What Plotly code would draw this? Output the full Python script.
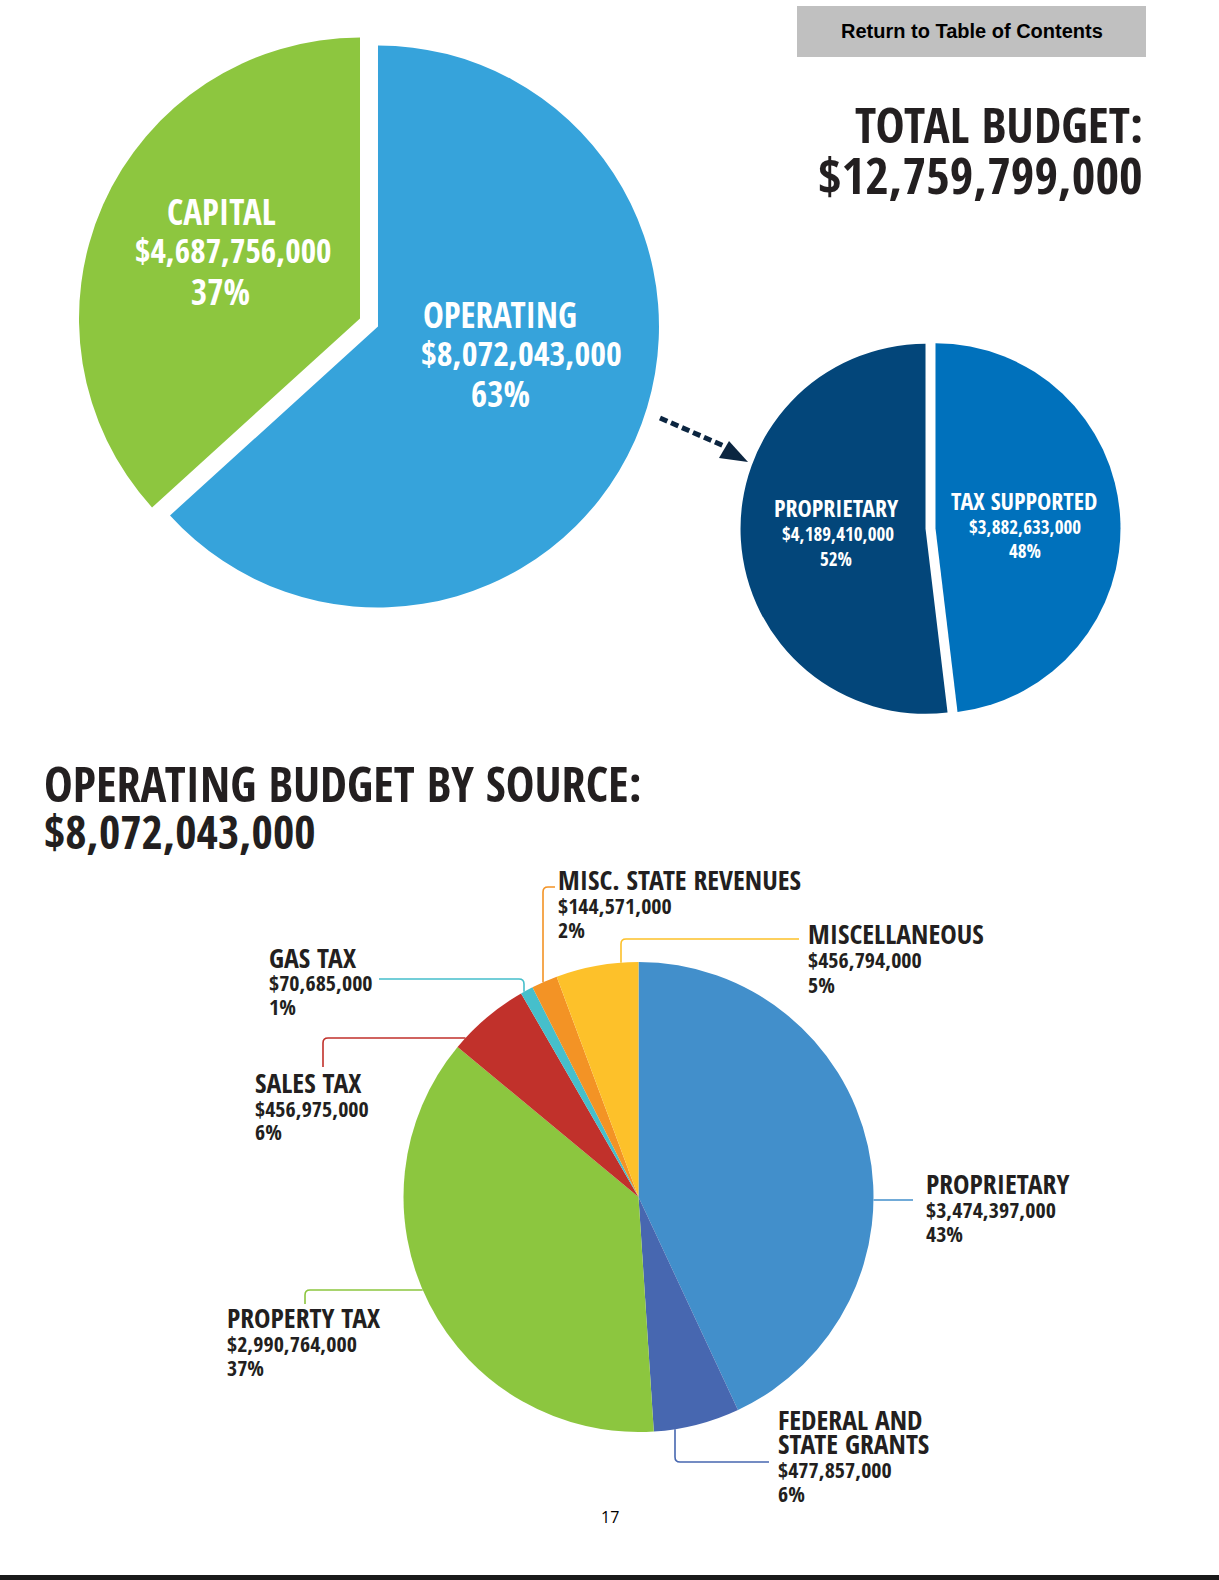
import plotly.graph_objects as go

W, H = 1219, 1580

# ---------------- data ----------------
total_labels = ["OPERATING", "CAPITAL"]
total_values = [8072043000, 4687756000]
total_pct = ["63%", "37%"]
total_colors = ["#36A3DB", "#8DC63F"]

oper_labels = ["TAX SUPPORTED", "PROPRIETARY"]
oper_values = [3882633000, 4189410000]
oper_pct = ["48%", "52%"]
oper_colors = ["#0071BC", "#03467A"]

src_labels = ["PROPRIETARY", "FEDERAL AND<br>STATE GRANTS", "PROPERTY TAX", "SALES TAX",
              "GAS TAX", "MISC. STATE REVENUES", "MISCELLANEOUS"]
src_values = [3474397000, 477857000, 2990764000, 456975000, 70685000, 144571000, 456794000]
src_pct = ["43%", "6%", "37%", "6%", "1%", "2%", "5%"]
src_colors = ["#428FCB", "#4767B0", "#8CC63F", "#C1312B", "#46BFCB", "#F39325", "#FDC12A"]

total_budget = 12759799000
operating_total = 8072043000

CF = "Open Sans Condensed, Roboto Condensed, sans-serif"
INK = "#231F20"


def money(v):
    return "${:,}".format(v)


def P(x, y):
    return x / W, 1 - y / H


def dom(cx, cy, r, pull):
    half = r * (1 + pull)
    return dict(x=[(cx - half) / W, (cx + half) / W], y=[1 - (cy + half) / H, 1 - (cy - half) / H])


fig = go.Figure()

# pie geometry (pixels)
TOP = dict(cx=369, cy=322.5, r=281, pull=0.035)
SML = dict(cx=930.5, cy=528.5, r=185, pull=0.027)
BOT = dict(cx=638.5, cy=1197, r=235, pull=0.0)

fig.add_trace(go.Pie(labels=total_labels, values=total_values, sort=False, direction="clockwise",
                     rotation=0, textinfo="none", hoverinfo="label+value+percent",
                     marker=dict(colors=total_colors, line=dict(width=0)),
                     pull=[TOP["pull"]] * len(total_values),
                     domain=dom(TOP["cx"], TOP["cy"], TOP["r"], TOP["pull"]), showlegend=False))

fig.add_trace(go.Pie(labels=oper_labels, values=oper_values, sort=False, direction="clockwise",
                     rotation=0, textinfo="none", hoverinfo="label+value+percent",
                     marker=dict(colors=oper_colors, line=dict(width=0)),
                     pull=[SML["pull"]] * len(oper_values),
                     domain=dom(SML["cx"], SML["cy"], SML["r"], SML["pull"]), showlegend=False))

fig.add_trace(go.Pie(labels=src_labels, values=src_values, sort=False, direction="clockwise",
                     rotation=0, textinfo="none", hoverinfo="label+value+percent",
                     marker=dict(colors=src_colors, line=dict(width=0)),
                     domain=dom(BOT["cx"], BOT["cy"], BOT["r"], 0), showlegend=False))


def ann(text, x, y, size, color=INK, xanchor="left", family=CF, bold=True):
    fx, fy = P(x, y)
    fig.add_annotation(x=fx, y=fy, xref="paper", yref="paper", text=text, showarrow=False,
                       xanchor=xanchor, yanchor="middle",
                       font=dict(family=family, size=size, color=color,
                                 weight="bold" if bold else "normal"))


shapes = []

# Return button
x0, y0 = P(797, 6)
x1, y1 = P(1146, 57)
shapes.append(dict(type="rect", xref="paper", yref="paper", x0=x0, y0=y0, x1=x1, y1=y1,
                   fillcolor="#C0C0C0", line=dict(width=0), layer="below"))
ann("Return to Table of Contents", 971.5, 31.5, 20, "#000000", "center", "Liberation Sans, Arial")

# bottom bar
x0, y0 = P(0, 1575)
x1, y1 = P(W, 1580)
shapes.append(dict(type="rect", xref="paper", yref="paper", x0=x0, y0=y0, x1=x1, y1=y1,
                   fillcolor="#1A1A1A", line=dict(width=0)))

# Headlines
ann("TOTAL BUDGET:", 1145, 124, 49, INK, "right")
ann(money(total_budget), 1145, 174, 51, INK, "right")
ann("OPERATING BUDGET BY SOURCE:", 42, 783, 48.3, INK, "left")
ann(money(operating_total), 42, 831, 46, INK, "left")

# top pie labels
ann(total_labels[1], 221, 211, 35, "white", "center")
ann(money(total_values[1]), 233, 250, 33.3, "white", "center")
ann(total_pct[1], 220, 291, 35, "white", "center")
ann(total_labels[0], 500, 314.5, 35, "white", "center")
ann(money(total_values[0]), 521, 353.5, 34, "white", "center")
ann(total_pct[0], 500, 393, 35, "white", "center")

# small pie labels
ann(oper_labels[1], 836, 507.5, 24, "white", "center")
ann(money(oper_values[1]), 838, 534, 19, "white", "center")
ann(oper_pct[1], 836, 559, 19, "white", "center")
ann(oper_labels[0], 1023.5, 500, 24, "white", "center")
ann(money(oper_values[0]), 1024.5, 527, 19, "white", "center")
ann(oper_pct[0], 1024.5, 551, 19, "white", "center")

# dashed arrow
ARROW = "#0B2540"
ax0, ay0 = P(660, 418)
ax1, ay1 = P(724, 446)
shapes.append(dict(type="line", xref="paper", yref="paper", x0=ax0, y0=ay0, x1=ax1, y1=ay1,
                   line=dict(color=ARROW, width=5, dash="8px,4px")))
t = [P(748, 462), P(729, 441), P(719, 458)]
shapes.append(dict(type="path", xref="paper", yref="paper",
                   path="M{},{} L{},{} L{},{} Z".format(t[0][0], t[0][1], t[1][0], t[1][1], t[2][0], t[2][1]),
                   fillcolor=ARROW, line=dict(width=0)))

# bottom pie labels: (index, x_left, title_y list, value_y, pct_y)
label_pos = {
    0: (924, [1183], 1209, 1233),
    1: (776, [1418.5], 1468.5, 1492.5),
    2: (225, [1317], 1343, 1367),
    3: (253, [1081.5], 1107.5, 1131),
    4: (267, [956.5], 982, 1006),
    5: (556, [879], 905, 929),
    6: (806, [932.5], 959, 984),
}
for i, (lx, tys, vy, py) in label_pos.items():
    parts = src_labels[i].split("<br>")
    for k, part in enumerate(parts):
        ann(part, lx, tys[0] + 24 * k, 27.7, INK, "left")
    ann(money(src_values[i]), lx, vy, 22, INK, "left")
    ann(src_pct[i], lx, py, 22, INK, "left")


# leader lines
def edge_y(x):
    return BOT["cy"] - (BOT["r"] ** 2 - (x - BOT["cx"]) ** 2) ** 0.5


def edge_y_low(x):
    return BOT["cy"] + (BOT["r"] ** 2 - (x - BOT["cx"]) ** 2) ** 0.5


def edge_x_left(y):
    return BOT["cx"] - (BOT["r"] ** 2 - (y - BOT["cy"]) ** 2) ** 0.5


def edge_x_right(y):
    return BOT["cx"] + (BOT["r"] ** 2 - (y - BOT["cy"]) ** 2) ** 0.5


def path(points):
    s = []
    for cmd, pts in points:
        coords = " ".join("{:.5f},{:.5f}".format(*P(x, y)) for x, y in pts)
        s.append(cmd + coords)
    return " ".join(s)


rc = 5
leaders = [
    (0, [("M", [(edge_x_right(1200), 1200)]), ("L", [(913, 1200)])]),
    (1, [("M", [(675, edge_y_low(675))]), ("L", [(675, 1462 - rc)]),
         ("Q", [(675, 1462), (675 + rc, 1462)]), ("L", [(769, 1462)])]),
    (2, [("M", [(edge_x_left(1290), 1290)]), ("L", [(305 + rc, 1290)]),
         ("Q", [(305, 1290), (305, 1290 + rc)]), ("L", [(305, 1304)])]),
    (3, [("M", [(edge_x_left(1038), 1038)]), ("L", [(323 + rc, 1038)]),
         ("Q", [(323, 1038), (323, 1038 + rc)]), ("L", [(323, 1067)])]),
    (4, [("M", [(524, edge_y(524))]), ("L", [(524, 979 + rc)]),
         ("Q", [(524, 979), (524 - rc, 979)]), ("L", [(379, 979)])]),
    (5, [("M", [(543, edge_y(543))]), ("L", [(543, 887 + rc)]),
         ("Q", [(543, 887), (543 + rc, 887)]), ("L", [(555, 887)])]),
    (6, [("M", [(621, edge_y(621))]), ("L", [(621, 939 + rc)]),
         ("Q", [(621, 939), (621 + rc, 939)]), ("L", [(799, 939)])]),
]
for i, pts in leaders:
    shapes.append(dict(type="path", xref="paper", yref="paper", path=path(pts),
                       line=dict(color=src_colors[i], width=1.6)))

# page number
ann("17", 610, 1516.5, 16, "#000000", "center", "Open Sans, Noto Sans", bold=False)

fig.update_layout(width=W, height=H, margin=dict(l=0, r=0, t=0, b=0),
                  paper_bgcolor="white", plot_bgcolor="white", shapes=shapes)

fig.write_html("out.html")
